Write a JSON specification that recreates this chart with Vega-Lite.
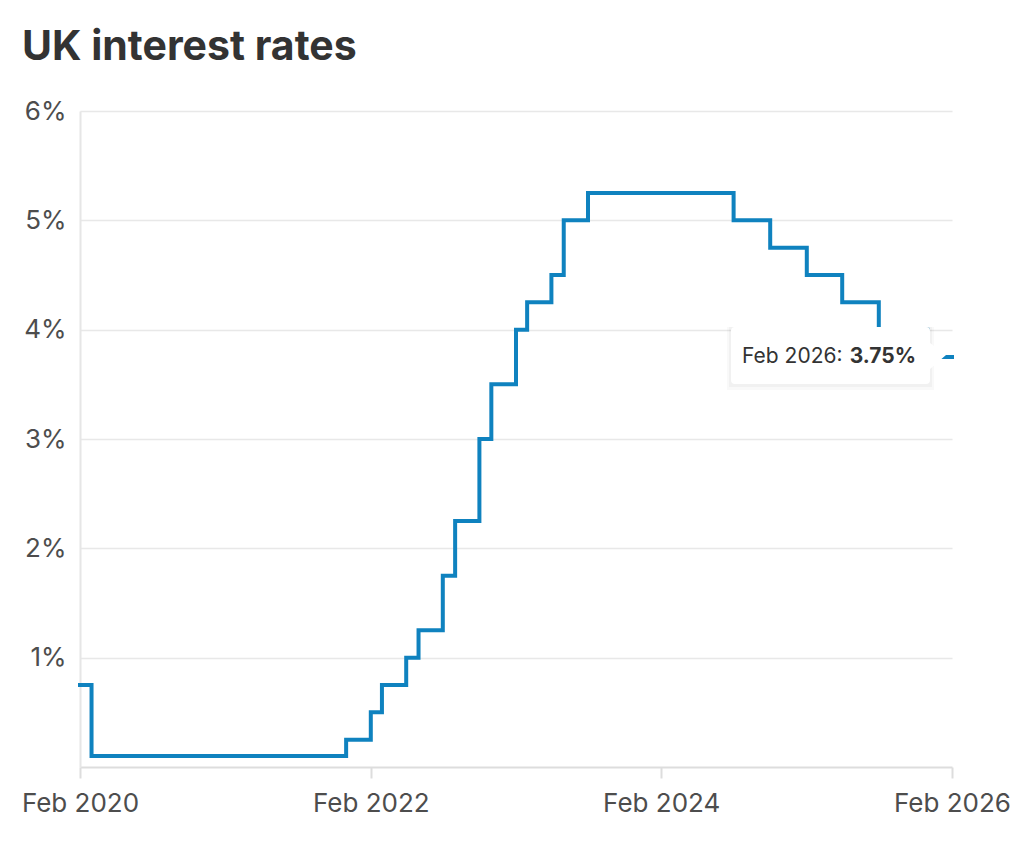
{
  "$schema": "https://vega.github.io/schema/vega-lite/v6.json",
  "autosize": {"type": "none"},
  "width": 872,
  "height": 656,
  "padding": {"left": 80, "top": 111, "right": 71, "bottom": 92},
  "background": "white",
  "title": {
    "text": "UK interest rates",
    "anchor": "start",
    "frame": "group",
    "dx": -58,
    "offset": -3,
    "baseline": "alphabetic",
    "font": "Inter",
    "fontSize": 41,
    "fontWeight": "bold",
    "color": "#333333"
  },
  "config": {
    "view": {"stroke": null},
    "font": "Inter"
  },
  "datasets": {
    "rates": [
      {"date": "2020-02-01", "rate": 0.75},
      {"date": "2020-03-01", "rate": 0.1},
      {"date": "2021-12-01", "rate": 0.25},
      {"date": "2022-02-01", "rate": 0.5},
      {"date": "2022-03-01", "rate": 0.75},
      {"date": "2022-05-01", "rate": 1.0},
      {"date": "2022-06-01", "rate": 1.25},
      {"date": "2022-08-01", "rate": 1.75},
      {"date": "2022-09-01", "rate": 2.25},
      {"date": "2022-11-01", "rate": 3.0},
      {"date": "2022-12-01", "rate": 3.5},
      {"date": "2023-02-01", "rate": 4.0},
      {"date": "2023-03-01", "rate": 4.25},
      {"date": "2023-05-01", "rate": 4.5},
      {"date": "2023-06-01", "rate": 5.0},
      {"date": "2023-08-01", "rate": 5.25},
      {"date": "2024-08-01", "rate": 5.0},
      {"date": "2024-11-01", "rate": 4.75},
      {"date": "2025-02-01", "rate": 4.5},
      {"date": "2025-05-01", "rate": 4.25},
      {"date": "2025-08-01", "rate": 4.0},
      {"date": "2025-12-01", "rate": 3.75},
      {"date": "2026-02-01", "rate": 3.75}
    ],
    "tip": [
      {"date": "2026-02-01", "rate": 3.75, "label": "Feb 2026:", "value": "3.75%"}
    ]
  },
  "encoding": {
    "x": {
      "field": "date",
      "type": "temporal",
      "scale": {
        "type": "utc",
        "domain": [
          {"year": 2020, "month": 2, "date": 1, "utc": true},
          {"year": 2026, "month": 2, "date": 1, "utc": true}
        ]
      },
      "axis": {
        "title": null,
        "values": [
          {"year": 2020, "month": 2, "date": 1, "utc": true},
          {"year": 2022, "month": 2, "date": 1, "utc": true},
          {"year": 2024, "month": 2, "date": 1, "utc": true},
          {"year": 2026, "month": 2, "date": 1, "utc": true}
        ],
        "labelExpr": "utcFormat(datum.value, '%b %Y')",
        "grid": false,
        "domain": true,
        "domainColor": "#dddddd",
        "domainWidth": 2,
        "ticks": true,
        "tickColor": "#dddddd",
        "tickWidth": 2,
        "tickSize": 11,
        "labelFont": "Inter",
        "labelFontSize": 26,
        "labelColor": "#4d4d4d",
        "labelPadding": 12,
        "labelFlush": false,
        "labelOverlap": false
      }
    },
    "y": {
      "field": "rate",
      "type": "quantitative",
      "scale": {"domain": [0, 6], "nice": false, "zero": true},
      "axis": {
        "title": null,
        "values": [1, 2, 3, 4, 5, 6],
        "labelExpr": "datum.value + '%'",
        "grid": true,
        "gridColor": "#e8e8e8",
        "gridWidth": 1.5,
        "domain": true,
        "domainColor": "#e6e6e6",
        "domainWidth": 2,
        "ticks": false,
        "labelFont": "Inter",
        "labelFontSize": 26,
        "labelColor": "#4d4d4d",
        "labelPadding": 14
      }
    }
  },
  "layer": [
    {
      "data": {"name": "rates"},
      "mark": {"type": "line", "interpolate": "step-after", "color": "#0f82bf", "strokeWidth": 4, "strokeCap": "square"}
    },
    {
      "data": {"name": "tip"},
      "mark": {
        "type": "point",
        "shape": "M-2.25,-0.30 L-0.18,-0.30 L-0.18,0.33 L-2.25,0.33 Z",
        "size": 40000,
        "filled": true,
        "fill": "#000000",
        "opacity": 0.025,
        "strokeWidth": 0
      }
    },
    {
      "data": {"name": "tip"},
      "mark": {
        "type": "point",
        "shape": "M-2.23,-0.30 L-0.20,-0.30 L-0.20,0.30 L-2.23,0.30 Z",
        "size": 40000,
        "filled": true,
        "fill": "#000000",
        "opacity": 0.03,
        "strokeWidth": 0
      }
    },
    {
      "data": {"name": "tip"},
      "mark": {
        "type": "point",
        "shape": "M-2.17,-0.30 L-0.26,-0.30 Q-0.22,-0.30 -0.22,-0.26 L-0.22,-0.14 L-0.06,-0.02 L-0.22,0.12 L-0.22,0.23 Q-0.22,0.27 -0.26,0.27 L-2.17,0.27 Q-2.21,0.27 -2.21,0.23 L-2.21,-0.26 Q-2.21,-0.30 -2.17,-0.30 Z",
        "size": 40000,
        "filled": true,
        "fill": "#ffffff",
        "opacity": 1,
        "strokeWidth": 0
      }
    },
    {
      "data": {"name": "tip"},
      "mark": {"type": "text", "align": "left", "baseline": "middle", "dx": -210, "dy": 0, "font": "Inter", "fontSize": 21, "color": "#333333"},
      "encoding": {"text": {"field": "label"}}
    },
    {
      "data": {"name": "tip"},
      "mark": {"type": "text", "align": "right", "baseline": "middle", "dx": -36, "dy": 0, "font": "Inter", "fontSize": 21, "fontWeight": "bold", "color": "#333333"},
      "encoding": {"text": {"field": "value"}}
    }
  ]
}
